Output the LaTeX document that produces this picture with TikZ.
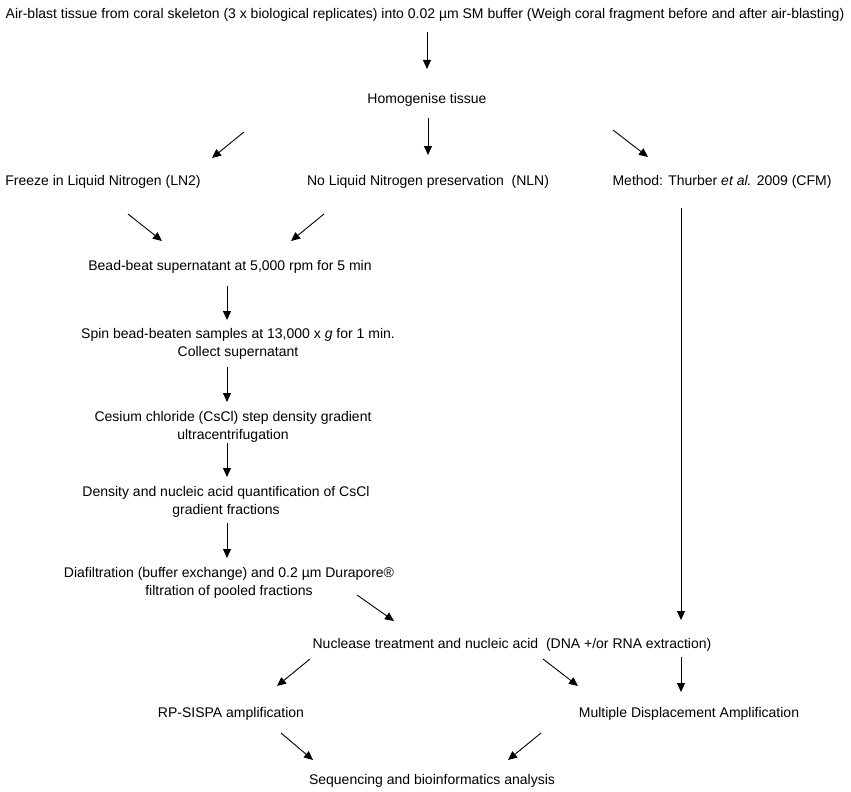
\documentclass[tikz,border=0pt]{standalone}
\usepackage{fontspec}
\setmainfont{Liberation Sans}
\usetikzlibrary{arrows.meta}

\tikzset{
  step text/.style={inner sep=0pt, align=center, font=\fontsize{14}{17.5}\selectfont},
  flow arrow/.style={-{Triangle[length=9pt,width=8pt]}, line width=0.9pt}
}

\begin{document}
\begin{tikzpicture}[x=1pt,y=-1pt]
\useasboundingbox (0,0) rectangle (851,792);
% text of each step
\node [step text] (air) at (425,15) {Air-blast tissue from coral skeleton (3 x biological replicates) into 0.02 µm SM buffer (Weigh coral fragment before and after air-blasting)};
\node [step text] (homog) at (427,100) {Homogenise tissue};
\node [step text] (ln2) at (103,182) {Freeze in Liquid Nitrogen (LN2)};
\node [step text] (nln) at (428,182) {No Liquid Nitrogen preservation\ \ (NLN)};
\node [step text] (cfm) at (722,182) {Method: Thurber \textit{et al.} 2009 (CFM)};
\node [step text] (bead) at (230,267) {Bead-beat supernatant at 5,000 rpm for 5 min};
\node [step text] (spin) at (238,344) {Spin bead-beaten samples at 13,000 x \textit{g} for 1 min.\\Collect supernatant};
\node [step text] (cscl) at (233,427) {Cesium chloride (CsCl) step density gradient\\ultracentrifugation};
\node [step text] (dens) at (226,502) {Density and nucleic acid quantification of CsCl\\gradient fractions};
\node [step text] (diaf) at (229,583) {Diafiltration (buffer exchange) and 0.2 µm Durapore®\\filtration of pooled fractions};
\node [step text] (nucl) at (512,645) {Nuclease treatment and nucleic acid\ \ (DNA +/or RNA extraction)};
\node [step text] (sispa) at (231,714) {RP-SISPA amplification};
\node [step text] (mda) at (689,714) {Multiple Displacement Amplification};
\node [step text] (seq) at (432,781) {Sequencing and bioinformatics analysis};
% arrow ends
\coordinate (air-out) at (427,32);   \coordinate (homog-in) at (427,69);
\coordinate (homog-l) at (244,132);  \coordinate (ln2-in) at (212,158);
\coordinate (homog-c) at (428,118);  \coordinate (nln-in) at (428,155);
\coordinate (homog-r) at (613,130);  \coordinate (cfm-in) at (648,157);
\coordinate (ln2-out) at (128,214);  \coordinate (bead-l) at (162,241);
\coordinate (nln-out) at (324,214);  \coordinate (bead-r) at (291,241);
\coordinate (cfm-out) at (681,208);  \coordinate (nucl-r) at (681,620);
\coordinate (bead-out) at (227,286); \coordinate (spin-in) at (227,320);
\coordinate (spin-out) at (227,367); \coordinate (cscl-in) at (227,402);
\coordinate (cscl-out) at (227,443); \coordinate (dens-in) at (227,477);
\coordinate (dens-out) at (227,523); \coordinate (diaf-in) at (227,558);
\coordinate (diaf-out) at (357,595); \coordinate (nucl-in) at (394,621);
\coordinate (nucl-l) at (310,659);   \coordinate (sispa-in) at (277,686);
\coordinate (nucl-m) at (543,659);   \coordinate (mda-l) at (578,686);
\coordinate (nucl-d) at (681,657);   \coordinate (mda-in) at (681,692);
\coordinate (sispa-out) at (281,733); \coordinate (seq-l) at (313,760);
\coordinate (mda-out) at (541,733);  \coordinate (seq-r) at (508,760);
% connectors
\draw [flow arrow] (air-out) -- (homog-in);
\draw [flow arrow] (homog-l) -- (ln2-in);
\draw [flow arrow] (homog-c) -- (nln-in);
\draw [flow arrow] (homog-r) -- (cfm-in);
\draw [flow arrow] (ln2-out) -- (bead-l);
\draw [flow arrow] (nln-out) -- (bead-r);
\draw [flow arrow] (cfm-out) -- (nucl-r);
\draw [flow arrow] (bead-out) -- (spin-in);
\draw [flow arrow] (spin-out) -- (cscl-in);
\draw [flow arrow] (cscl-out) -- (dens-in);
\draw [flow arrow] (dens-out) -- (diaf-in);
\draw [flow arrow] (diaf-out) -- (nucl-in);
\draw [flow arrow] (nucl-l) -- (sispa-in);
\draw [flow arrow] (nucl-m) -- (mda-l);
\draw [flow arrow] (nucl-d) -- (mda-in);
\draw [flow arrow] (sispa-out) -- (seq-l);
\draw [flow arrow] (mda-out) -- (seq-r);
\end{tikzpicture}
\end{document}
